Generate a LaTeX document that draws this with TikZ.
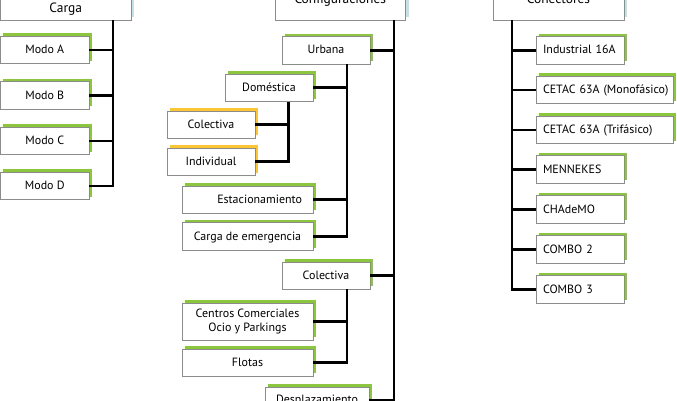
\documentclass[tikz,border=0pt]{standalone}
\usepackage{fontspec}
\setmainfont{PT Sans}
\usetikzlibrary{shadows}
\definecolor{lgreen}{HTML}{8CC63F}
\definecolor{lyellow}{HTML}{FBC534}
\definecolor{lteal}{HTML}{C2E3E6}
\definecolor{bgrey}{HTML}{8C8C8C}
\begin{document}
\begin{tikzpicture}[x=1bp,y=-1bp,
  box/.style={draw=bgrey, line width=0.9bp, fill=white, inner sep=0pt,
    font=\fontsize{12}{15}\selectfont, text height=9bp, text depth=2bp,
    general shadow={fill=#1, draw=none, shadow xshift=3bp, shadow yshift=3bp}},
  box/.default=lgreen,
  topbox/.style={box=lteal, font=\fontsize{13.5}{16}\selectfont},
  multibox/.style={draw=bgrey, line width=0.9bp, fill=white, inner sep=0pt,
    font=\fontsize{12}{15}\selectfont, align=center,
    general shadow={fill=lgreen, draw=none, shadow xshift=3bp, shadow yshift=3bp}},
  conn/.style={line width=2.7bp, black},
  lbox/.style={box, minimum width=88bp, minimum height=27.5bp, text width=74bp, align=left},
  wbox/.style={box, minimum width=137bp, minimum height=27.5bp, text width=123bp, align=left}
]
\useasboundingbox (0,0) rectangle (677,400);
\clip (0,0) rectangle (677,400);

% ---------- left column ----------
\node[topbox, minimum width=130.5bp, minimum height=22bp] (carga) at (65.75,9) {Carga};
\node[box, minimum width=88.5bp, minimum height=27.5bp] (modoA) at (44.75,50) {Modo A};
\node[box, minimum width=88.5bp, minimum height=27.5bp] (modoB) at (44.75,95.5) {Modo B};
\node[box, minimum width=88.5bp, minimum height=27.5bp] (modoC) at (44.75,141) {Modo C};
\node[box, minimum width=88.5bp, minimum height=27.5bp] (modoD) at (44.75,186) {Modo D};
\coordinate (tL) at (113,0);

% ---------- middle column ----------
\node[topbox, minimum width=130.5bp, minimum height=40bp] (conf) at (340.25,0) {Configuraciones};
\node[box, minimum width=88bp, minimum height=27.5bp] (urb) at (326,50.25) {Urbana};
\node[box, minimum width=88bp, minimum height=27.5bp] (dom) at (269,87.75) {Doméstica};
\node[box=lyellow, minimum width=88bp, minimum height=27bp] (colY) at (211,124.5) {Colectiva};
\node[box=lyellow, minimum width=88bp, minimum height=27.5bp] (ind) at (211,161.75) {Individual};
\node[box, minimum width=131bp, minimum height=27bp, text width=109bp, align=right] (est) at (247.5,199.5) {Estacionamiento};
\node[box, minimum width=131bp, minimum height=28bp] (emer) at (247.5,236.75) {Carga de emergencia};
\node[box, minimum width=88bp, minimum height=27bp] (colG) at (326,275.5) {Colectiva};
\node[multibox, minimum width=131bp, minimum height=37bp] (cen) at (247.5,321.5) {Centros Comerciales\\Ocio y Parkings};
\node[box, minimum width=131bp, minimum height=27bp] (flo) at (247.5,362.5) {Flotas};
\node[box, minimum width=104bp, minimum height=26bp] (des) at (317,400) {Desplazamiento};
\coordinate (tM) at (394,0);
\coordinate (tU) at (347,0);
\coordinate (tD) at (288.5,0);
\coordinate (tC) at (347,0);

% ---------- right column ----------
\node[topbox, minimum width=131bp, minimum height=40bp] (con) at (558.5,0) {Conectores};
\node[lbox] (c1) at (580,50.25) {Industrial 16A};
\node[wbox] (c2) at (604.5,90) {\mbox{CETAC 63A (Monofásico)}};
\node[wbox] (c3) at (604.5,130) {\mbox{CETAC 63A (Trifásico)}};
\node[lbox] (c4) at (580,169.5) {MENNEKES};
\node[lbox] (c5) at (580,209.5) {CHAdeMO};
\node[lbox] (c6) at (580,249.5) {COMBO 2};
\node[lbox] (c7) at (580,289.5) {COMBO 3};
\coordinate (tR) at (512,0);

% ---------- connectors ----------
\draw[conn] (tL |- carga.south) -- (tL |- modoD.east) -- (modoD.east);
\foreach \n in {modoA,modoB,modoC} \draw[conn] (\n.east) -- (\n.east -| tL);

\draw[conn] (tM |- conf.south) -- (tM |- des.east) -- (des.east);
\foreach \n in {urb,colG} \draw[conn] (\n.east) -- (\n.east -| tM);

\draw[conn] (tU |- urb.south) -- (tU |- emer.east) -- (emer.east);
\foreach \n in {dom,est} \draw[conn] (\n.east) -- (\n.east -| tU);

\draw[conn] (tD |- dom.south) -- (tD |- ind.east) -- (ind.east);
\draw[conn] (colY.east) -- (colY.east -| tD);

\draw[conn] (tC |- colG.south) -- (tC |- flo.east) -- (flo.east);
\draw[conn] (cen.east) -- (cen.east -| tC);

\draw[conn] (tR |- con.south) -- (tR |- c7.west) -- (c7.west);
\foreach \n in {c1,c2,c3,c4,c5,c6} \draw[conn] (\n.west) -- (\n.west -| tR);
\end{tikzpicture}
\end{document}
